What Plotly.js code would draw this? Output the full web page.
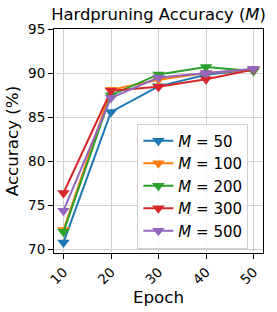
<!DOCTYPE html>
<html><head><meta charset="utf-8">
<script src="https://cdn.plot.ly/plotly-3.0.1.min.js"></script>
<style>html,body{margin:0;padding:0;background:#fff}#c{width:277px;height:312px}</style>
</head><body><div id="c"></div>
<script>
const epochs = [10, 20, 30, 40, 50];
const seriesNames = ["<i>M</i> = 50", "<i>M</i> = 100", "<i>M</i> = 200", "<i>M</i> = 300", "<i>M</i> = 500"];
const m50  = [70.8, 85.6, 88.5, 89.8, 90.4];
const m100 = [72.2, 88.1, 89.25, 90.0, 90.4];
const m200 = [72.0, 87.5, 89.85, 90.7, 90.25];
const m300 = [76.4, 88.0, 88.45, 89.3, 90.4];
const m500 = [74.4, 87.2, 89.5, 90.0, 90.5];
const colors = ["#1f77b4", "#ff7f0e", "#2ca02c", "#d62728", "#9467bd"];
const ys = [m50, m100, m200, m300, m500];

const traces = ys.map((y, i) => ({
  x: epochs, y: y, name: seriesNames[i], type: "scatter", mode: "lines+markers",
  line: {color: colors[i], width: 2},
  marker: {symbol: "triangle-down", size: 11, color: colors[i]}
}));

const font = {family: "DejaVu Sans, sans-serif", color: "#000"};
const layout = {
  width: 277, height: 312,
  margin: {l: 54, r: 14, t: 29, b: 59},
  paper_bgcolor: "#fff", plot_bgcolor: "#fff",
  font: Object.assign({size: 13.5}, font),
  showlegend: true,
  title: {text: "Hardpruning Accuracy (<i>M</i>)", font: {size: 16.4, family: font.family, color: "#000"},
          x: 0.5, xref: "paper", xanchor: "center", y: 1, yref: "container", yanchor: "top", pad: {t: 9}},
  xaxis: {
    range: [8, 52], tickvals: epochs, ticktext: epochs.map(String), tickangle: -45,
    showgrid: true, gridcolor: "#d0d0d0", gridwidth: 1,
    showline: true, linecolor: "#000", linewidth: 1, mirror: true,
    ticks: "outside", ticklen: 5, tickcolor: "#000",
    zeroline: false, tickfont: {size: 13.5},
    title: {text: "Epoch", font: {size: 16.7}, standoff: 3}
  },
  yaxis: {
    range: [69.6, 95.0], tickvals: [70, 75, 80, 85, 90, 95],
    showgrid: true, gridcolor: "#d0d0d0", gridwidth: 1,
    showline: true, linecolor: "#000", linewidth: 1, mirror: true,
    ticks: "outside", ticklen: 5, tickcolor: "#000",
    zeroline: false, tickfont: {size: 13.5},
    title: {text: "Accuracy (%)", font: {size: 16.7}, standoff: 5}
  },
  legend: {
    x: 0.93, y: 0.02, xanchor: "right", yanchor: "bottom",
    bgcolor: "rgba(255,255,255,0.8)", bordercolor: "#d0d0d0", borderwidth: 1,
    font: {size: 15, family: font.family, color: "#000"}, tracegroupgap: 0, itemwidth: 30
  }
};
Plotly.newPlot("c", traces, layout, {displayModeBar: false, staticPlot: true});
</script></body></html>
